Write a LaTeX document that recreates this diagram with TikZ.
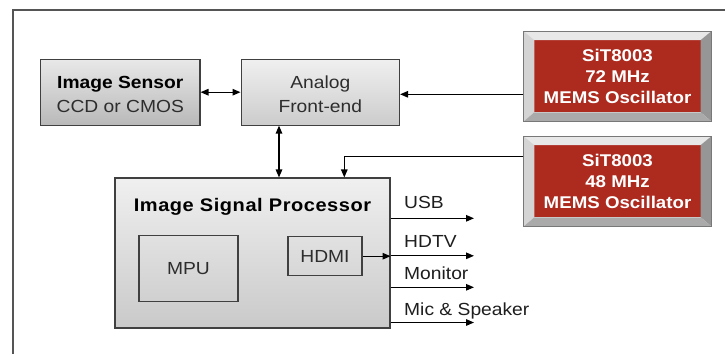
\documentclass[tikz,border=0pt]{standalone}
\usepackage{fontspec}
\setmainfont{Liberation Sans}[FakeStretch=1.1]
\usetikzlibrary{arrows.meta}
\definecolor{oscred}{RGB}{172,42,30}
\definecolor{boxline}{RGB}{64,64,64}
\definecolor{txtgray}{RGB}{45,45,45}
\definecolor{framegray}{RGB}{85,85,85}
\newcommand\regf{\fontsize{17.5}{24}\selectfont}
\newcommand\oscf{\fontsize{17}{20.8}\selectfont\bfseries}
\newcommand\oscbevel[2]{%
  \fill[bevtop] (#1.north west) -- (#1.north east) -- (#2.north east) -- (#2.north west) -- cycle;
  \fill[bevleft] (#1.north west) -- (#2.north west) -- (#2.south west) -- (#1.south west) -- cycle;
  \fill[bevright] (#1.north east) -- (#1.south east) -- (#2.south east) -- (#2.north east) -- cycle;
  \fill[bevbot] (#1.south west) -- (#2.south west) -- (#2.south east) -- (#1.south east) -- cycle;
  \draw[bevedge] (#1.north west) rectangle (#1.south east);
}
\tikzset{
  conn/.style={line width=1.3pt, black},
  arr/.style={conn, -{Triangle[length=8pt,width=6.5pt]}},
  darr/.style={conn, {Triangle[length=8pt,width=6.5pt]}-{Triangle[length=8pt,width=6.5pt]}},
  graybox/.style 2 args={draw=boxline, line width=1.1pt, inner sep=0pt, top color=#1, bottom color=#2, text=txtgray, font=\regf, align=center},
  plainbox/.style={draw=boxline, line width=1.1pt, inner sep=0pt, text=txtgray, font=\regf, align=center},
  oscframe/.style={rectangle, inner sep=0pt, outer sep=0pt},
  oscbox/.style={rectangle, inner sep=0pt, outer sep=0pt, fill=oscred, text=white, font=\oscf, align=center, minimum width=166.4pt, minimum height=72.3pt},
  bevtop/.style={fill={rgb,255:red,232;green,232;blue,232}},
  bevleft/.style={fill={rgb,255:red,212;green,212;blue,212}},
  bevright/.style={fill={rgb,255:red,150;green,150;blue,150}},
  bevbot/.style={fill={rgb,255:red,170;green,170;blue,170}},
  bevedge/.style={draw={rgb,255:red,120;green,120;blue,120}, line width=0.8pt},
  outlabel/.style={anchor=base west, inner sep=0pt, font=\regf, text={rgb,255:red,30;green,30;blue,30}},
}
\begin{document}
\begin{tikzpicture}[x=1pt,y=-1pt]
\useasboundingbox (0,0) rectangle (725,354);
% frame
\draw[framegray, line width=1.8pt] (13,354) -- (13,10) -- (725,10);

% gray boxes
\node[graybox={gray!18}{gray!55}, minimum width=159.3pt, minimum height=65.7pt] (sensor) at (120.3,92.2)
  {\rule{0pt}{17pt}\textcolor{black}{\bfseries Image Sensor}\\CCD or CMOS};
\node[graybox={gray!12}{gray!40}, minimum width=158.5pt, minimum height=65.7pt] (analog) at (320.3,92.2)
  {\rule{0pt}{17pt}Analog\\Front-end};
\node[graybox={gray!12}{gray!42}, minimum width=275pt, minimum height=150pt] (isp) at (252.5,253) {};
\node[anchor=base, inner sep=0pt, font={\fontsize{18.2}{22}\selectfont\bfseries\addfontfeature{LetterSpace=3}}] (isptitle) at (252.5,211.7) {Image Signal Processor};
\node[plainbox, minimum width=99pt, minimum height=66pt] (mpu) at (188.5,268.7) {MPU};
\node[plainbox, minimum width=74pt, minimum height=39pt] (hdmi) at (325,256.2) {HDMI};

% oscillators
\node[oscframe, minimum width=188.4pt, minimum height=90.7pt] (osc1f) at (617.5,76.35) {};
\node[oscbox] (osc1) at (617.5,76.15) {SiT8003\\72 MHz\\MEMS Oscillator};
\oscbevel{osc1f}{osc1}
\node[oscframe, minimum width=188.4pt, minimum height=90.7pt] (osc2f) at (617.5,181.35) {};
\node[oscbox] (osc2) at (617.5,181.15) {SiT8003\\48 MHz\\MEMS Oscillator};
\oscbevel{osc2f}{osc2}

% connectors
\draw[darr] (sensor.east) -- (analog.west);
\draw[arr] (osc1f.west |- 0,94.3) -- (analog.east |- 0,94.3);
\draw[darr] (analog.south -| 279,0) -- (isp.north -| 279,0);
\draw[arr] (osc2f.west |- 0,156.7) -| (isp.north -| 344.3,0);
\draw[arr] (hdmi.east) -- (isp.east |- hdmi.east);

% outputs
\coordinate (usbEnd) at (474,218.3);
\coordinate (hdtvEnd) at (474,255.8);
\coordinate (monEnd) at (474,287.3);
\coordinate (micEnd) at (474,322.5);
\draw[arr] (isp.east |- usbEnd) -- (usbEnd);
\draw[arr] (isp.east |- hdtvEnd) -- (hdtvEnd);
\draw[arr] (isp.east |- monEnd) -- (monEnd);
\draw[arr] (isp.east |- micEnd) -- (micEnd);
\node[outlabel] (usb) at (404,208.3) {USB};
\node[outlabel] (hdtv) at (404,247.3) {HDTV};
\node[outlabel] (mon) at (404,279.8) {Monitor};
\node[outlabel] (mic) at (404,315) {Mic \& Speaker};
\end{tikzpicture}
\end{document}
